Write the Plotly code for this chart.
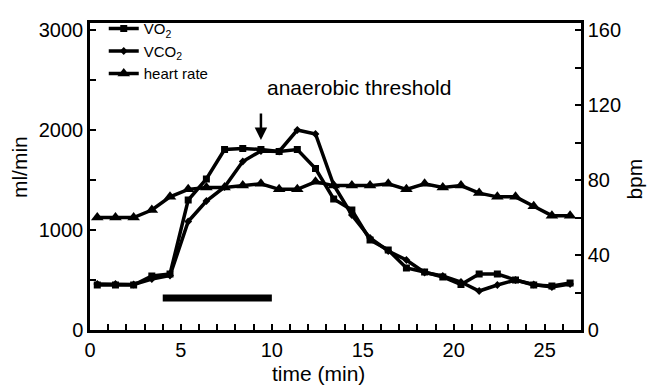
import plotly.graph_objects as go

# time (min)
time_min = [0.4, 1.4, 2.4, 3.4, 4.4, 5.4, 6.4, 7.4, 8.4, 9.4, 10.4, 11.4, 12.4, 13.4,
            14.4, 15.4, 16.4, 17.4, 18.4, 19.4, 20.4, 21.4, 22.4, 23.4, 24.4, 25.4, 26.4]
# ml/min
vo2 = [450, 450, 450, 540, 560, 1300, 1510, 1805, 1815, 1805, 1785, 1805, 1615, 1310,
       1200, 900, 800, 620, 580, 530, 455, 560, 560, 500, 450, 440, 470]
vco2 = [460, 460, 455, 510, 545, 1085, 1290, 1430, 1685, 1790, 1785, 2000, 1960, 1450,
        1150, 920, 790, 700, 575, 540, 480, 390, 450, 500, 455, 430, 460]
# bpm
heart_rate = [60, 60, 60, 64, 71, 75, 76, 76, 77, 78, 75, 75, 79, 77,
              77, 77, 78, 75, 78, 76, 77, 73, 71, 71, 66, 61, 61]

# exercise bar (min) and its level (ml/min)
exercise_period = [4, 10]
exercise_level = [320, 320]

# anaerobic threshold marker
threshold_time = 9.4
threshold_value = 1900

y_max = 3070
y2_max = y_max * 160 / 3000

FONT = "Liberation Sans, Arial, sans-serif"

fig = go.Figure()
fig.add_trace(go.Scatter(x=time_min, y=vo2, name="VO<sub>2</sub>", mode="lines+markers",
                         line=dict(color="black", width=3.5),
                         marker=dict(symbol="square", size=7, color="black")))
fig.add_trace(go.Scatter(x=time_min, y=vco2, name="VCO<sub>2</sub>", mode="lines+markers",
                         line=dict(color="black", width=3.5),
                         marker=dict(symbol="diamond", size=6, color="black")))
fig.add_trace(go.Scatter(x=time_min, y=heart_rate, name="heart rate", mode="lines+markers",
                         yaxis="y2",
                         line=dict(color="black", width=3.5),
                         marker=dict(symbol="triangle-up", size=11, color="black")))
fig.add_trace(go.Scatter(x=exercise_period, y=exercise_level, mode="lines",
                         line=dict(color="black", width=7), showlegend=False,
                         hoverinfo="skip"))

fig.add_annotation(x=threshold_time, y=threshold_value, ax=0, ay=-28,
                   xref="x", yref="y", axref="pixel", ayref="pixel",
                   showarrow=True, arrowhead=2, arrowsize=1, arrowwidth=2.5,
                   arrowcolor="black", text="")
fig.add_annotation(x=threshold_time + 0.25, y=2430, xref="x", yref="y",
                   text="anaerobic threshold", showarrow=False, xanchor="left",
                   yanchor="middle", font=dict(family=FONT, size=21, color="black"))

# axis titles placed in paper coordinates
fig.add_annotation(x=-0.143, y=0.53, xref="paper", yref="paper", text="ml/min",
                   textangle=-90, showarrow=False, xanchor="center", yanchor="middle",
                   font=dict(family=FONT, size=21, color="black"))
fig.add_annotation(x=1.11, y=0.49, xref="paper", yref="paper", text="bpm",
                   textangle=-90, showarrow=False, xanchor="center", yanchor="middle",
                   font=dict(family=FONT, size=21, color="black"))
fig.add_annotation(x=0.466, y=-0.142, xref="paper", yref="paper", text="time (min)",
                   showarrow=False, xanchor="center", yanchor="middle",
                   font=dict(family=FONT, size=21, color="black"))

tick_common = dict(ticks="inside", ticklen=6, tickwidth=1.5, tickcolor="black",
                   showline=True, linecolor="black", linewidth=2.5,
                   showgrid=False, zeroline=False, automargin=False,
                   tickfont=dict(size=20))

fig.update_layout(
    width=647, height=385,
    margin=dict(l=90, r=66, t=13, b=55),
    paper_bgcolor="white", plot_bgcolor="white",
    font=dict(family=FONT, size=20, color="black"),
    showlegend=True,
    hovermode=False,
    legend=dict(x=0.028, y=1.035, xanchor="left", yanchor="top",
                bgcolor="rgba(0,0,0,0)", font=dict(size=15),
                itemwidth=30, tracegroupgap=0),
    xaxis=dict(range=[0, 27], tickmode="linear", tick0=0, dtick=5, mirror=True,
               minor=dict(dtick=1, ticks="inside", ticklen=6, tickwidth=1.5, tickcolor="black"),
               **tick_common),
    yaxis=dict(range=[0, y_max], tickmode="array", tickvals=[0, 1000, 2000, 3000],
               minor=dict(tickvals=[500, 1500, 2500], ticks="inside", ticklen=6,
                          tickwidth=1.5, tickcolor="black"),
               **tick_common),
    yaxis2=dict(range=[0, y2_max], overlaying="y", side="right",
                tickmode="array", tickvals=[0, 40, 80, 120, 160],
                minor=dict(tickvals=[20, 60, 100, 140], ticks="inside", ticklen=6,
                           tickwidth=1.5, tickcolor="black"),
                **tick_common),
)

fig.write_html("out.html", config={"displayModeBar": False},
               post_script="document.body.style.margin='0px';document.body.style.padding='0px';")
